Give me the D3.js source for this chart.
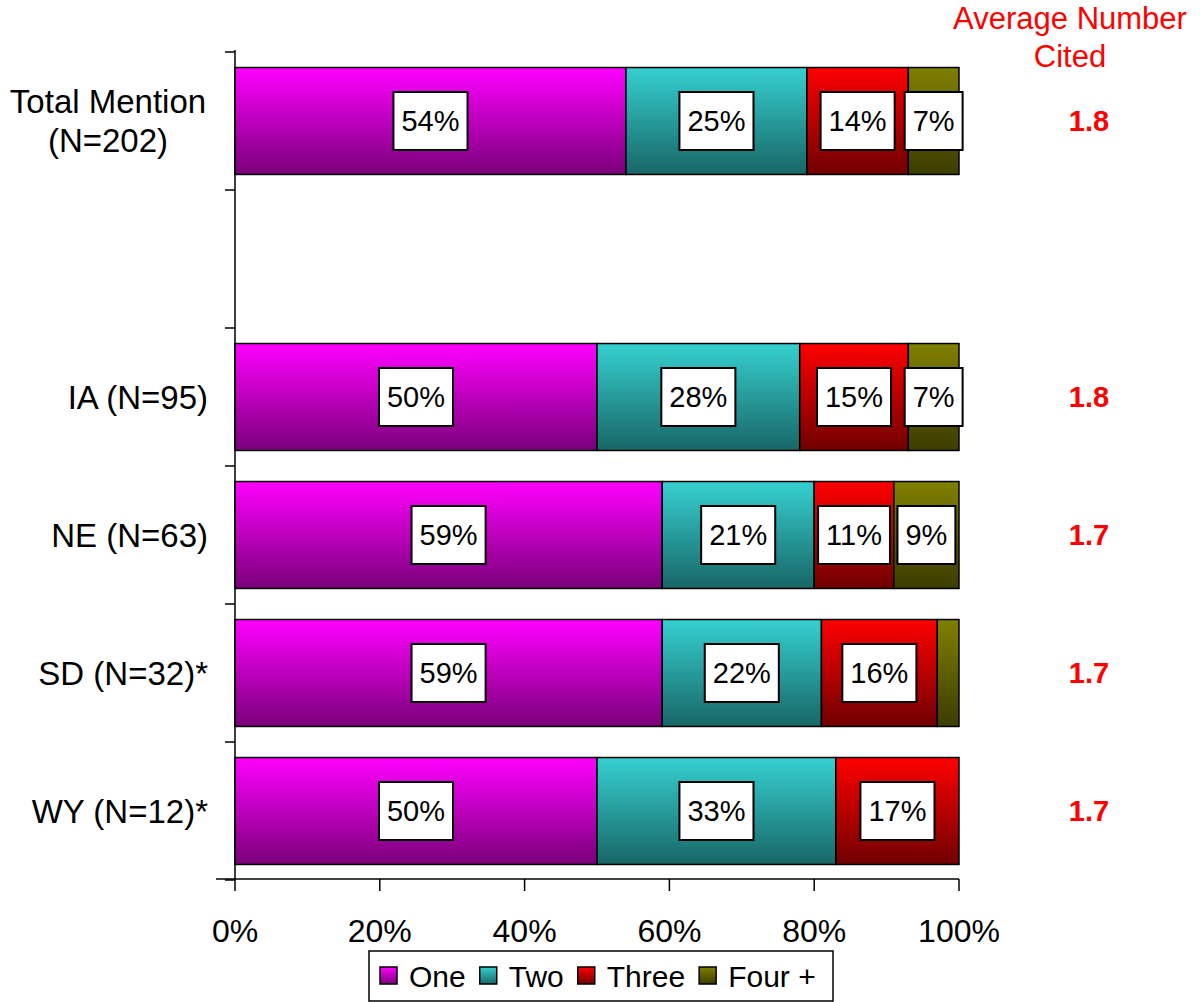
<!DOCTYPE html>
<html><head><meta charset="utf-8">
<script src="https://cdn.jsdelivr.net/npm/d3@7"></script>
<style>body{margin:0;background:#fff}svg{display:block;font-family:"Liberation Sans",Arial,sans-serif}</style>
</head><body><div id="chart"></div>
<script>
const categories = ["Total Mention|(N=202)", "spacer", "IA (N=95)", "NE (N=63)", "SD (N=32)*", "WY (N=12)*"];
const seriesNames = ["One", "Two", "Three", "Four +"];
const one   = [54, null, 50, 59, 59, 50];
const two   = [25, null, 28, 21, 22, 33];
const three = [14, null, 15, 11, 16, 17];
const four  = [7,  null, 7,  9,  3,  0];
const averages = [1.8, null, 1.8, 1.7, 1.7, 1.7];
const xTicks = [0, 20, 40, 60, 80, 100];
const avgTitle = ["Average Number", "Cited"];

const W = 1200, H = 1002;
const svg = d3.select("#chart").append("svg").attr("width", W).attr("height", H);
const defs = svg.append("defs");
const grads = [["#ff00ff", "#7a007a"], ["#36d0d0", "#186666"], ["#ff0000", "#700000"], ["#808000", "#3c3c00"]];
grads.forEach((g, i) => {
  const lg = defs.append("linearGradient").attr("id", "g" + i).attr("x1", 0).attr("y1", 0).attr("x2", 0).attr("y2", 1);
  lg.append("stop").attr("offset", "0%").attr("stop-color", g[0]);
  lg.append("stop").attr("offset", "100%").attr("stop-color", g[1]);
});

const x = d3.scaleLinear().domain([0, 100]).range([235, 959]);
const y = d3.scaleBand().domain(categories).range([52, 880]).paddingInner(0.225).paddingOuter(0.1125);

const seriesVals = [one, two, three, four];
const rows = categories.map((c, i) => {
  const o = { cat: c };
  seriesNames.forEach((s, j) => o[s] = seriesVals[j][i] || 0);
  return o;
}).filter((d, i) => one[i] !== null);
const stack = d3.stack().keys(seriesNames)(rows);

const g = svg.append("g");
stack.forEach((layer, li) => {
  layer.forEach(d => {
    const w = x(d[1]) - x(d[0]);
    if (w <= 0) return;
    g.append("rect").attr("x", x(d[0])).attr("y", y(d.data.cat))
      .attr("width", w).attr("height", y.bandwidth())
      .attr("fill", `url(#g${li})`).attr("stroke", "#000").attr("stroke-width", 1.5);
  });
});
// labels
stack.forEach((layer, li) => {
  layer.forEach(d => {
    const v = d[1] - d[0];
    if (v < 5) return;
    const cx = x((d[0] + d[1]) / 2), cy = y(d.data.cat) + y.bandwidth() / 2;
    const t = g.append("text").attr("x", cx).attr("y", cy).attr("dy", "0.36em")
      .attr("text-anchor", "middle").attr("font-size", 29).text(v + "%");
    const bb = t.node().getBBox();
    const bw = bb.width + 16, bh = 58;
    g.insert("rect", () => t.node()).attr("x", cx - bw / 2).attr("y", cy - bh / 2)
      .attr("width", bw).attr("height", bh).attr("fill", "#fff").attr("stroke", "#000").attr("stroke-width", 2);
  });
});

// y axis
const ax = svg.append("g").attr("stroke", "#000").attr("stroke-width", 1.5);
ax.append("line").attr("x1", 235).attr("x2", 235).attr("y1", 50).attr("y2", 879);
const bounds = categories.map(c => y(c) - y.step() * y.paddingInner() / 2).concat([y(categories[categories.length - 1]) + y.bandwidth() + y.step() * y.paddingInner() / 2]);
bounds.forEach(b => ax.append("line").attr("x1", 225).attr("x2", 235).attr("y1", b).attr("y2", b));
// x axis
ax.append("line").attr("x1", 216).attr("x2", 959).attr("y1", 879).attr("y2", 879);
xTicks.forEach(t => ax.append("line").attr("x1", x(t)).attr("x2", x(t)).attr("y1", 879).attr("y2", 891));
xTicks.forEach(t => svg.append("text").attr("x", x(t)).attr("y", 942).attr("text-anchor", "middle")
  .attr("font-size", 32).text(t + "%"));

// category labels
categories.forEach(c => {
  if (c === "spacer") return;
  const cy = y(c) + y.bandwidth() / 2;
  const parts = c.split("|");
  if (parts.length > 1) {
    parts.forEach((p, i) => svg.append("text").attr("x", 108).attr("y", cy + (i - 0.5) * 39).attr("dy", "0.36em")
      .attr("text-anchor", "middle").attr("font-size", 33).text(p));
  } else {
    svg.append("text").attr("x", 208).attr("y", cy).attr("dy", "0.36em")
      .attr("text-anchor", "end").attr("font-size", 33).text(c);
  }
});

// averages
avgTitle.forEach((t, i) => svg.append("text").attr("x", 1070).attr("y", 29 + i * 38)
  .attr("text-anchor", "middle").attr("font-size", 31).attr("fill", "#ff0000").text(t));
categories.forEach((c, i) => {
  if (averages[i] === null) return;
  svg.append("text").attr("x", 1089).attr("y", y(c) + y.bandwidth() / 2).attr("dy", "0.36em")
    .attr("text-anchor", "middle").attr("font-size", 29).attr("font-weight", "bold").attr("fill", "#ff0000")
    .text(averages[i].toFixed(1));
});

// legend
const lg = svg.append("g");
lg.append("rect").attr("x", 369).attr("y", 951).attr("width", 464).attr("height", 50)
  .attr("fill", "#fff").attr("stroke", "#000").attr("stroke-width", 1.5);
let lx = 380;
seriesNames.forEach((s, i) => {
  lg.append("rect").attr("x", lx).attr("y", 967).attr("width", 17).attr("height", 17)
    .attr("fill", `url(#g${i})`).attr("stroke", "#000").attr("stroke-width", 1.5);
  const t = lg.append("text").attr("x", lx + 29).attr("y", 976).attr("dy", "0.36em").attr("font-size", 30).text(s);
  lx += 29 + t.node().getBBox().width + 14;
});
</script></body></html>
